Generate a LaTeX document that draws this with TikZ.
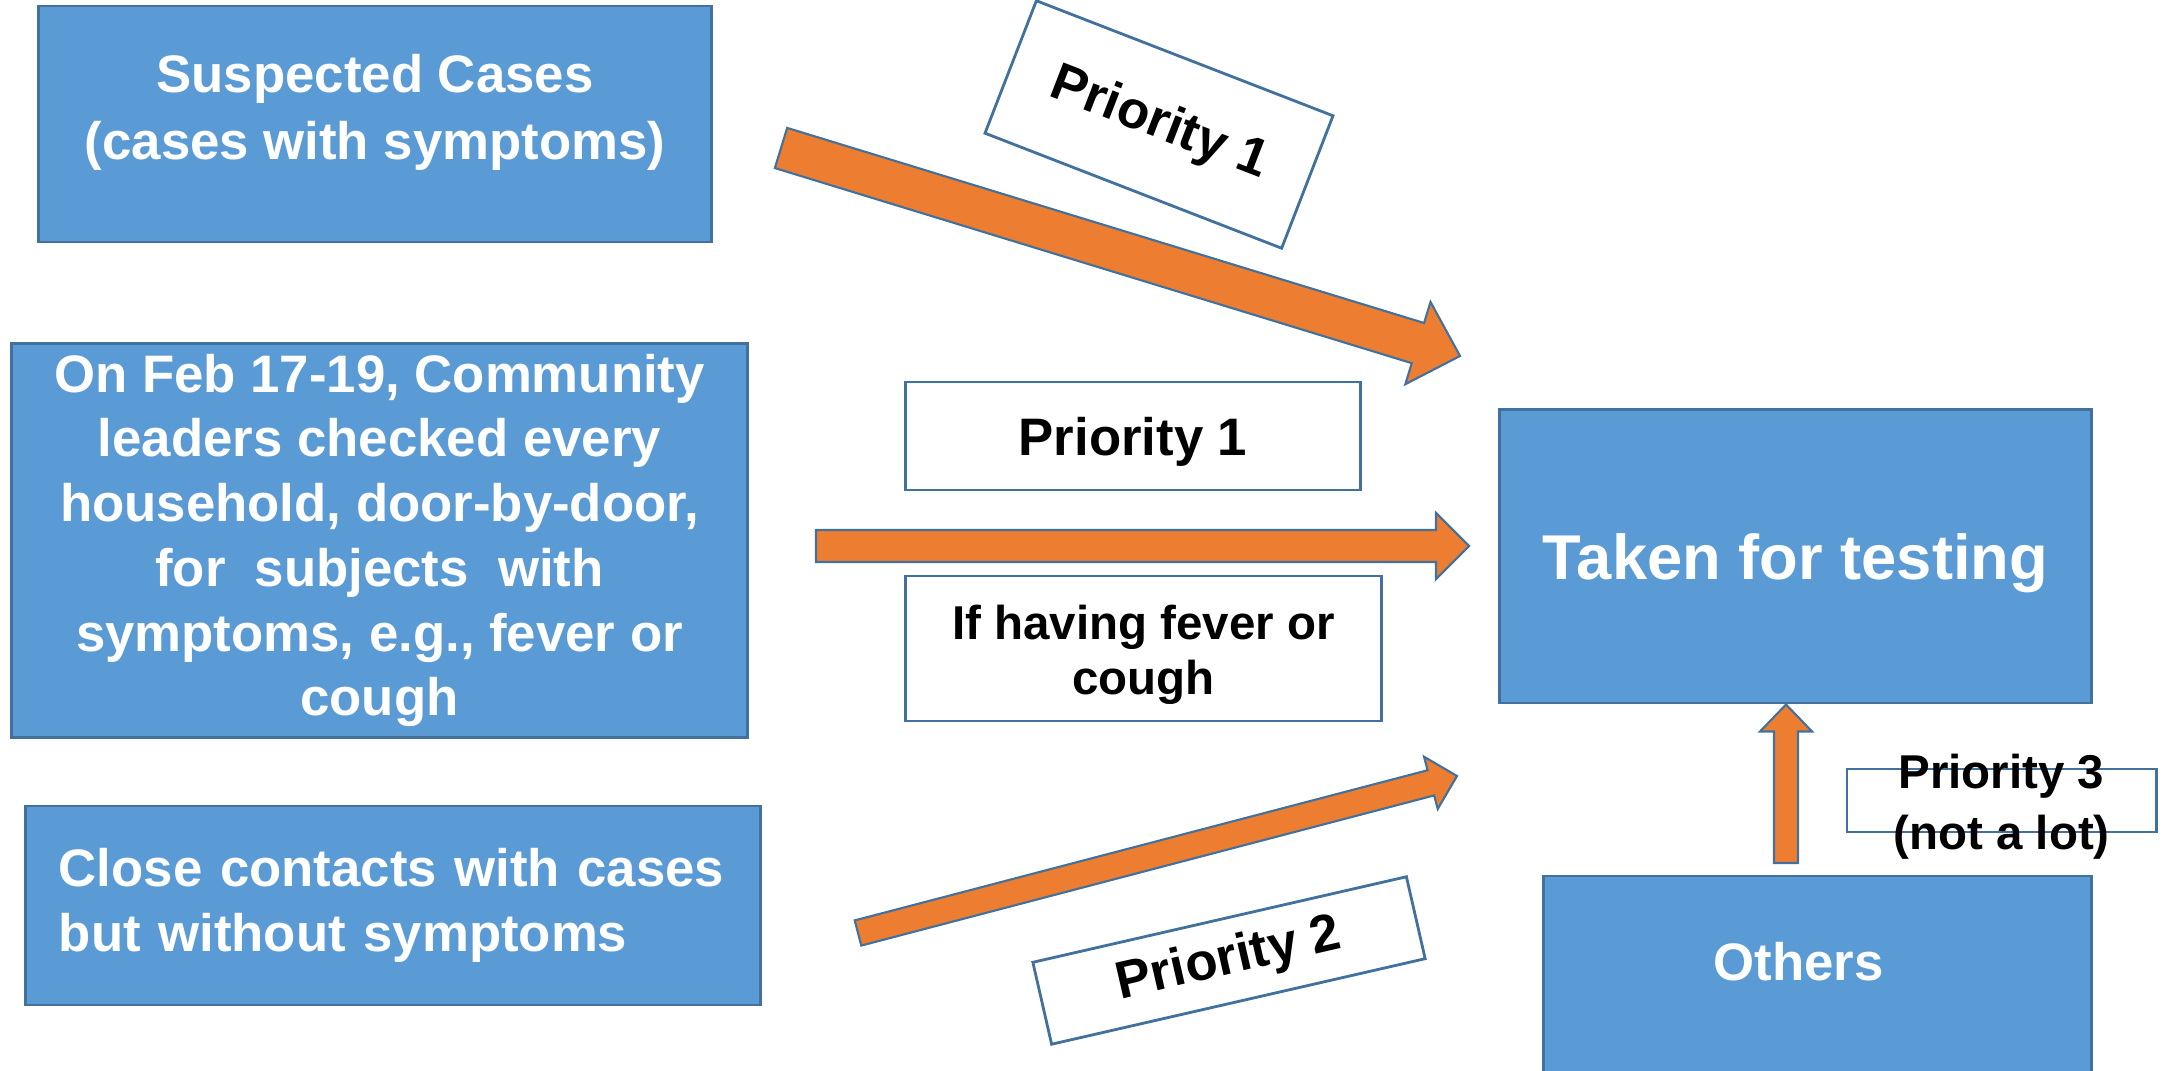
\documentclass[tikz,border=0pt]{standalone}
\usepackage{fontspec}
\setmainfont{Liberation Sans}
\usetikzlibrary{calc}

\definecolor{boxblue}{HTML}{5B9BD5}
\definecolor{boxline}{HTML}{41719C}
\definecolor{arroworange}{HTML}{ED7D31}

% block arrow: name, tail, tip, shaft half width, head half width, head length
\newcommand{\blockarrow}[6]{%
  \coordinate (#1-neck) at ($(#3)!#6!(#2)$);
  \filldraw[arrowbody] ($(#2)!#4!90:(#3)$) -- ($(#1-neck)!#4!90:(#3)$) -- ($(#1-neck)!#5!90:(#3)$)
    -- (#3) -- ($(#1-neck)!#5!-90:(#3)$) -- ($(#1-neck)!#4!-90:(#3)$) -- ($(#2)!#4!-90:(#3)$) -- cycle;
}

\begin{document}
\begin{tikzpicture}[
  x=0.01cm, y=-0.01cm,
  bluebox/.style={draw=boxline, fill=boxblue, line width=0.8pt, text=white, inner sep=0pt, align=center, font=\bfseries\fontsize{15}{18.4}\selectfont},
  tagbox/.style={draw=boxline, fill=white, line width=0.8pt, inner sep=0pt, align=center, font=\bfseries\fontsize{15}{18.4}\selectfont},
  boxtext/.style={inner sep=0pt, align=center, text=white, font=\bfseries\fontsize{15}{19}\selectfont},
  tagtext/.style={inner sep=0pt, align=center, font=\bfseries\fontsize{13.5}{17.4}\selectfont},
  arrowbody/.style={fill=arroworange, draw=boxline, line width=0.6pt, line join=miter}
]
\clip (0,0) rectangle (2164,1071);

% sources
\node[bluebox, minimum width=6.72cm, minimum height=2.36cm] (susp) at (375,124) {};
\node[boxtext] (susptxt) at ([yshift=0.12cm]susp.center) {Suspected Cases\\(cases with symptoms)};
\node[bluebox, minimum width=7.35cm, minimum height=3.93cm] (door) at (379.5,540.5) {On Feb 17-19, Community\\leaders checked every\\household, door-by-door,\\for\ \ subjects\ \ with\\symptoms, e.g., fever or\\cough};
\node[bluebox, minimum width=7.34cm, minimum height=1.99cm, align=left, text width=6.68cm] (close) at (393,905.5) {Close contacts with cases\\but without symptoms};

% target
\node[bluebox, minimum width=5.91cm, minimum height=2.93cm, text depth=0pt, font=\bfseries\fontsize{18}{21.6}\selectfont] (test) at (1795.5,556.5) {Taken for testing};
\node[bluebox, minimum width=5.47cm, text height=1.05cm, text depth=1.6cm, anchor=base] (others) at (1817.5,981) {Others\hspace{0.38cm}};

% priority tags
\node[tagbox, rotate=-21.2, minimum width=3.18cm, minimum height=1.42cm] (tag1a) at (1159,124.5) {Priority 1};
\node[tagbox, minimum width=4.54cm, minimum height=1.08cm, text depth=0pt] (tag1b) at (1133,436) {Priority 1};
\node[tagbox, minimum width=4.75cm, minimum height=1.45cm] (fever) at (1143.5,648.5) {};
\node[tagtext, font=\bfseries\fontsize{13.5}{15.7}\selectfont] (fevertxt) at ([yshift=-0.06cm]fever.center) {If having fever or\\cough};
\node[tagbox, rotate=12.9, minimum width=3.83cm, minimum height=0.84cm] (tag2) at (1229,960.5) {Priority 2};
\node[tagbox, minimum width=3.09cm, minimum height=0.63cm] (tag3) at (2001.5,800.5) {};
\node[tagtext] (tag3txt) at (2001.5,807) {Priority 3\\(not a lot)};

% arrows
\coordinate (a1t) at (781,148);  \coordinate (a1h) at (1460,356);
\coordinate (a2t) at (816,546);  \coordinate (a2h) at (1469,546);
\coordinate (a3t) at (858,933);  \coordinate (a3h) at (1457,776);
\coordinate (a4t) at (1786,863); \coordinate (a4h) at (test.south -| a4t);
\blockarrow{a1}{a1t}{a1h}{0.21cm}{0.43cm}{0.44cm}
\blockarrow{a2}{a2t}{a2h}{0.16cm}{0.33cm}{0.33cm}
\blockarrow{a3}{a3t}{a3h}{0.13cm}{0.27cm}{0.27cm}
\blockarrow{a4}{a4t}{a4h}{0.12cm}{0.26cm}{0.27cm}
\end{tikzpicture}
\end{document}
